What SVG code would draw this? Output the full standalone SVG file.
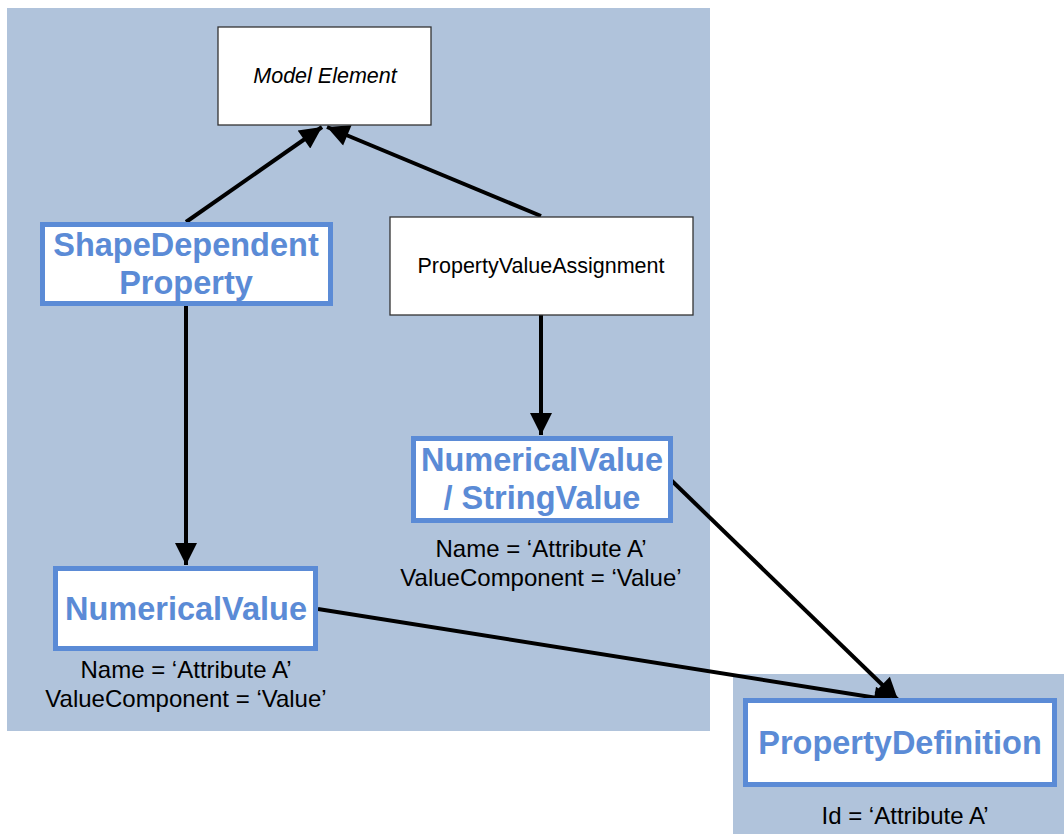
<svg xmlns="http://www.w3.org/2000/svg" width="1064" height="834" viewBox="0 0 1064 834">
<defs>
<style>
.panel{fill:#B0C3DB}
.plain{fill:#fff;stroke:#333;stroke-width:1.3}
.blue{fill:#fff;stroke:#5B8BD6;stroke-width:5}
.title{font-family:"Liberation Sans",Arial,sans-serif;font-weight:bold;font-size:32.5px;fill:#5B8BD6;text-anchor:middle}
.lbl{font-family:"Liberation Sans",Arial,sans-serif;font-size:24px;fill:#000;text-anchor:middle}
.small{font-family:"Liberation Sans",Arial,sans-serif;font-size:21.5px;fill:#000;text-anchor:middle}
.conn{stroke:#000;stroke-width:4;fill:none;marker-end:url(#arr)}
</style>
<marker id="arr" viewBox="0 0 10 10" refX="10" refY="5" markerUnits="userSpaceOnUse" markerWidth="24" markerHeight="22" orient="auto">
<path d="M0,0 L10,5 L0,10 z" fill="#000"/>
</marker>
</defs>
<rect width="1064" height="834" fill="#fff"/>
<rect class="panel" x="7" y="8" width="703" height="723"/>
<rect class="panel" x="733" y="674" width="331" height="160"/>

<g id="connectors">
<line class="conn" x1="186" y1="222" x2="322" y2="127"/>
<line class="conn" x1="541" y1="216" x2="327" y2="127"/>
<line class="conn" x1="186" y1="306" x2="186" y2="565"/>
<line class="conn" x1="541" y1="315" x2="541" y2="435"/>
<line class="conn" x1="671" y1="480" x2="898" y2="700"/>
<line class="conn" x1="318" y1="609" x2="896" y2="701"/>
</g>

<g id="model-element">
<rect class="plain" x="218" y="27" width="213" height="98"/>
<text class="small" x="325" y="83" font-style="italic">Model Element</text>
</g>

<g id="shape-dependent-property">
<rect class="blue" x="42.5" y="224.5" width="288" height="79"/>
<text class="title" x="186" y="256">ShapeDependent</text>
<text class="title" x="186" y="294">Property</text>
</g>

<g id="property-value-assignment">
<rect class="plain" x="390" y="217" width="303" height="98"/>
<text class="small" x="541" y="273">PropertyValueAssignment</text>
</g>

<g id="numerical-string-value">
<rect class="blue" x="413.5" y="438.5" width="257" height="82"/>
<text class="title" x="542" y="471">NumericalValue</text>
<text class="title" x="542" y="509">/ StringValue</text>
<text class="lbl" x="541" y="557">Name = ‘Attribute A’</text>
<text class="lbl" x="541" y="586">ValueComponent = ‘Value’</text>
</g>

<g id="numerical-value">
<rect class="blue" x="55.5" y="568.5" width="260" height="80"/>
<text class="title" x="186" y="620">NumericalValue</text>
<text class="lbl" x="186" y="678">Name = ‘Attribute A’</text>
<text class="lbl" x="186" y="707">ValueComponent = ‘Value’</text>
</g>

<g id="property-definition">
<rect class="blue" x="745.5" y="700.5" width="309" height="84"/>
<text class="title" x="900" y="754">PropertyDefinition</text>
<text class="lbl" x="905" y="824">Id = ‘Attribute A’</text>
</g>
</svg>
